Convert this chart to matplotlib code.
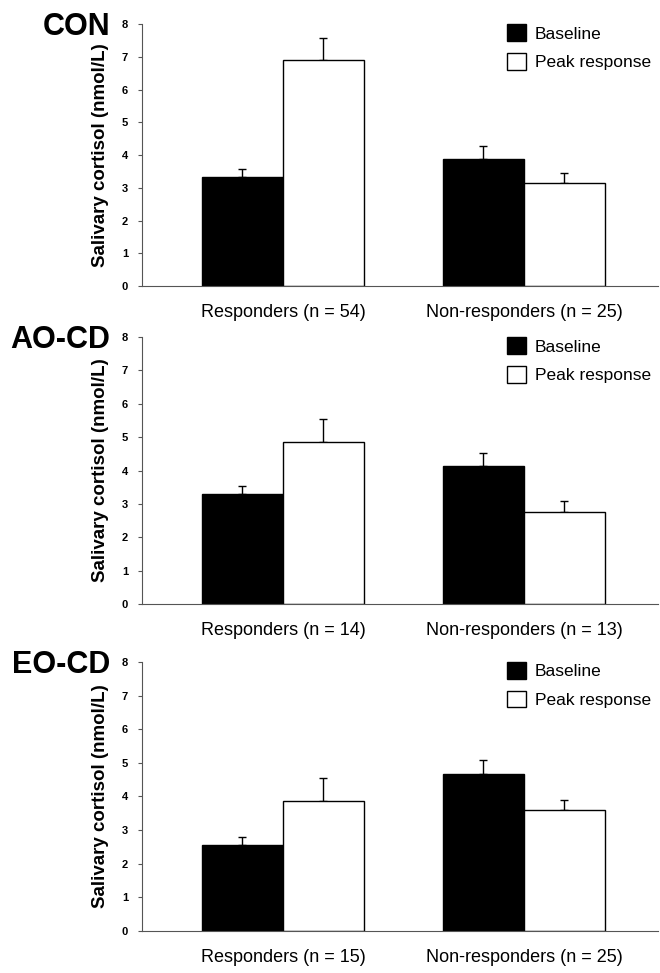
import matplotlib
matplotlib.use("Agg")
import matplotlib.pyplot as plt
import numpy as np

panels = ["CON", "AO-CD", "EO-CD"]
groups = [["Responders (n = 54)", "Non-responders (n = 25)"],
          ["Responders (n = 14)", "Non-responders (n = 13)"],
          ["Responders (n = 15)", "Non-responders (n = 25)"]]
baseline = [[3.34, 3.88], [3.30, 4.13], [2.57, 4.68]]
baseline_err = [[0.22, 0.40], [0.25, 0.40], [0.24, 0.40]]
peak = [[6.90, 3.16], [4.87, 2.76], [3.88, 3.60]]
peak_err = [[0.66, 0.30], [0.68, 0.32], [0.66, 0.31]]
yticks = [0, 1, 2, 3, 4, 5, 6, 7, 8]
series_names = ["Baseline", "Peak response"]

NARROW = ["Liberation Sans Narrow", "Liberation Sans", "DejaVu Sans"]
BOLD = ["Liberation Sans", "DejaVu Sans"]

fig = plt.figure(figsize=(6.6, 9.73), dpi=100)
rects = [(0.215, 0.706, 0.782, 0.2693),
         (0.215, 0.3792, 0.782, 0.2744),
         (0.215, 0.0432, 0.782, 0.2764)]

w = 0.336
for i, name in enumerate(panels):
    ax = fig.add_axes(rects[i])
    x = np.arange(len(groups[i]))
    ax.bar(x - w / 2, baseline[i], width=w, color="black", edgecolor="black",
           linewidth=1.0, label=series_names[0], zorder=2)
    ax.bar(x + w / 2, peak[i], width=w, color="white", edgecolor="black",
           linewidth=1.0, label=series_names[1], zorder=2)
    ax.errorbar(x - w / 2, baseline[i],
                yerr=[np.zeros(len(x)), baseline_err[i]], fmt="none",
                ecolor="black", elinewidth=1.0, capsize=3, capthick=1.0, zorder=1)
    ax.errorbar(x + w / 2, peak[i],
                yerr=[np.zeros(len(x)), peak_err[i]], fmt="none",
                ecolor="black", elinewidth=1.0, capsize=3, capthick=1.0, zorder=1)
    ax.set_ylim(0, 8)
    ax.set_xlim(-0.585, 1.556)
    ax.set_yticks(yticks)
    ax.set_yticklabels([str(t) for t in yticks], fontsize=8, fontweight="bold",
                       family=BOLD)
    ax.set_xticks(x)
    ax.set_xticklabels(groups[i], fontsize=13, family=NARROW)
    ax.tick_params(axis="x", length=0, pad=13)
    ax.tick_params(axis="y", length=3, width=0.8, pad=7, color="#555555")
    for s in ["top", "right"]:
        ax.spines[s].set_visible(False)
    ax.spines["left"].set_color("#555555")
    ax.spines["bottom"].set_color("#555555")
    ax.spines["left"].set_linewidth(0.8)
    ax.spines["bottom"].set_linewidth(0.8)
    ax.set_ylabel("Salivary cortisol (nmol/L)", fontsize=13.5, fontweight="bold",
                  family=BOLD, labelpad=9)
    ax.legend(loc="upper right", frameon=False,
              prop={"family": NARROW, "size": 12.5},
              handlelength=1.1, handleheight=1.1, handletextpad=0.5,
              labelspacing=0.65, borderaxespad=0.0, bbox_to_anchor=(1.0, 1.025))
    ax.text(-0.062, 0.99, name, transform=ax.transAxes, ha="right", va="center",
            fontsize=22, fontweight="bold", family=BOLD)

fig.savefig("out.png", dpi=100)
